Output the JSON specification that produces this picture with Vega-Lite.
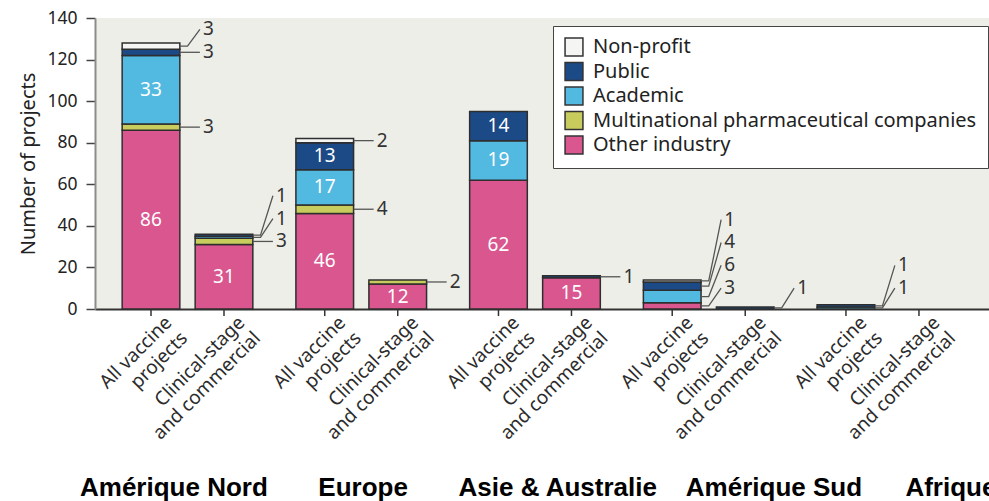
{
  "$schema": "https://vega.github.io/schema/vega-lite/v6.json",
  "width": 894,
  "height": 291,
  "autosize": {"type": "none"},
  "padding": {"left": 95, "top": 18, "right": 0, "bottom": 192},
  "background": "white",
  "config": {
    "view": {"fill": "#EEEEE9", "stroke": null},
    "font": "Noto Sans",
    "legend": {"cornerRadius": 0}
  },
  "title": {
    "text": "Amérique Nord\u00a0\u00a0\u00a0\u00a0\u00a0\u00a0\u00a0Europe\u00a0\u00a0\u00a0\u00a0\u00a0\u00a0\u00a0Asie & Australie\u00a0\u00a0\u00a0\u00a0Amérique Sud\u00a0\u00a0\u00a0\u00a0\u00a0\u00a0Afrique",
    "orient": "bottom",
    "anchor": "start",
    "frame": "group",
    "font": "Liberation Sans",
    "fontSize": 26,
    "fontWeight": "bold",
    "color": "#000000",
    "dx": -15,
    "offset": 32
  },
  "data": {
    "values": [
      {"region": "Amérique Nord", "stage": "All vaccine projects", "category": "Other industry", "value": 86},
      {"region": "Amérique Nord", "stage": "All vaccine projects", "category": "Multinational pharmaceutical companies", "value": 3},
      {"region": "Amérique Nord", "stage": "All vaccine projects", "category": "Academic", "value": 33},
      {"region": "Amérique Nord", "stage": "All vaccine projects", "category": "Public", "value": 3},
      {"region": "Amérique Nord", "stage": "All vaccine projects", "category": "Non-profit", "value": 3},
      {"region": "Amérique Nord", "stage": "Clinical-stage and commercial", "category": "Other industry", "value": 31},
      {"region": "Amérique Nord", "stage": "Clinical-stage and commercial", "category": "Multinational pharmaceutical companies", "value": 3},
      {"region": "Amérique Nord", "stage": "Clinical-stage and commercial", "category": "Academic", "value": 1},
      {"region": "Amérique Nord", "stage": "Clinical-stage and commercial", "category": "Public", "value": 1},
      {"region": "Europe", "stage": "All vaccine projects", "category": "Other industry", "value": 46},
      {"region": "Europe", "stage": "All vaccine projects", "category": "Multinational pharmaceutical companies", "value": 4},
      {"region": "Europe", "stage": "All vaccine projects", "category": "Academic", "value": 17},
      {"region": "Europe", "stage": "All vaccine projects", "category": "Public", "value": 13},
      {"region": "Europe", "stage": "All vaccine projects", "category": "Non-profit", "value": 2},
      {"region": "Europe", "stage": "Clinical-stage and commercial", "category": "Other industry", "value": 12},
      {"region": "Europe", "stage": "Clinical-stage and commercial", "category": "Multinational pharmaceutical companies", "value": 2},
      {"region": "Asie & Australie", "stage": "All vaccine projects", "category": "Other industry", "value": 62},
      {"region": "Asie & Australie", "stage": "All vaccine projects", "category": "Academic", "value": 19},
      {"region": "Asie & Australie", "stage": "All vaccine projects", "category": "Public", "value": 14},
      {"region": "Asie & Australie", "stage": "Clinical-stage and commercial", "category": "Other industry", "value": 15},
      {"region": "Asie & Australie", "stage": "Clinical-stage and commercial", "category": "Public", "value": 1},
      {"region": "Amérique Sud", "stage": "All vaccine projects", "category": "Other industry", "value": 3},
      {"region": "Amérique Sud", "stage": "All vaccine projects", "category": "Academic", "value": 6},
      {"region": "Amérique Sud", "stage": "All vaccine projects", "category": "Public", "value": 4},
      {"region": "Amérique Sud", "stage": "All vaccine projects", "category": "Non-profit", "value": 1},
      {"region": "Amérique Sud", "stage": "Clinical-stage and commercial", "category": "Public", "value": 1},
      {"region": "Afrique", "stage": "All vaccine projects", "category": "Academic", "value": 1},
      {"region": "Afrique", "stage": "All vaccine projects", "category": "Public", "value": 1},
      {"region": "Afrique", "stage": "Clinical-stage and commercial", "category": "Other industry", "value": 0}
    ]
  },
  "transform": [
    {"calculate": "indexof(['Other industry','Multinational pharmaceutical companies','Academic','Public','Non-profit'], datum.category)", "as": "ord"},
    {"calculate": "indexof(['Amérique Nord','Europe','Asie & Australie','Amérique Sud','Afrique'], datum.region) * 2.38 + (datum.stage == 'All vaccine projects' ? 0 : 1)", "as": "xpos"},
    {"stack": "value", "groupby": ["region", "stage"], "sort": [{"field": "ord", "order": "ascending"}], "as": ["y0", "y1"]},
    {"calculate": "(datum.y0 + datum.y1) / 2", "as": "mid"},
    {"calculate": "datum.xpos - 0.395", "as": "xl"},
    {"calculate": "datum.xpos + 0.395", "as": "xr"}
  ],
  "layer": [
    {
      "transform": [{"filter": "datum.value > 0"}],
      "mark": {"type": "bar", "stroke": "#2e2e2e", "strokeWidth": 1.5},
      "encoding": {
        "x": {
          "field": "xl", "type": "quantitative",
          "scale": {"domain": [-0.7671, 11.4795], "nice": false, "zero": false},
          "axis": {"labels": false, "ticks": false, "grid": false, "title": null, "domainColor": "#333333", "domainWidth": 2}
        },
        "x2": {"field": "xr"},
        "y": {
          "field": "y0", "type": "quantitative",
          "scale": {"domain": [0, 140], "nice": false, "zero": true},
          "axis": {
            "values": [0, 20, 40, 60, 80, 100, 120, 140],
            "grid": false,
            "domainColor": "#8c8c8c", "domainWidth": 2,
            "tickColor": "#444444", "tickWidth": 1.5, "tickSize": 9,
            "labelFontSize": 17.5, "labelColor": "#222222", "labelPadding": 9, "labelFont": "Noto Sans",
            "title": "Number of projects", "titleFontSize": 20, "titleFontWeight": "normal",
            "titleColor": "#222222", "titlePadding": 8, "titleFont": "Noto Sans"
          }
        },
        "y2": {"field": "y1"},
        "color": {
          "field": "category", "type": "nominal",
          "scale": {
            "domain": ["Non-profit", "Public", "Academic", "Multinational pharmaceutical companies", "Other industry"],
            "range": ["#F5F5F3", "#1C4A86", "#52B9E0", "#C8CC5C", "#D9568F"]
          },
          "legend": {
            "orient": "none", "legendX": 458, "legendY": 8, "title": null,
            "fillColor": "white", "strokeColor": "#444444", "padding": 11,
            "symbolType": "square", "symbolSize": 320, "symbolStrokeColor": "#333333", "symbolStrokeWidth": 1.5,
            "labelFontSize": 20, "labelFont": "Noto Sans", "labelColor": "#222222", "labelLimit": 0,
            "rowPadding": 0.5, "labelOffset": 9
          }
        }
      }
    },
    {
      "transform": [{"aggregate": [{"op": "count", "as": "n"}], "groupby": ["region", "stage", "xpos"]}],
      "mark": {"type": "rule", "color": "#333333", "strokeWidth": 1.5},
      "encoding": {
        "x": {"field": "xpos", "type": "quantitative"},
        "y": {"datum": 0},
        "y2": {"datum": -3.4}
      }
    },
    {
      "transform": [
        {"aggregate": [{"op": "count", "as": "n"}], "groupby": ["region", "stage", "xpos"]},
        {"calculate": "replace(replace(datum.stage, 'vaccine ', 'vaccine\\n'), 'stage ', 'stage\\n')", "as": "lab"}
      ],
      "mark": {"type": "text", "angle": 315, "align": "right", "baseline": "alphabetic", "dx": 5, "dy": 26, "fontSize": 19, "lineHeight": 22, "lineBreak": "\n", "color": "#2b2b2b", "font": "Noto Sans"},
      "encoding": {
        "x": {"field": "xpos", "type": "quantitative"},
        "y": {"datum": 0},
        "text": {"field": "lab"}
      }
    },
    {
      "transform": [{"filter": "datum.value >= 10"}],
      "mark": {"type": "text", "color": "white", "fontSize": 19, "align": "center", "baseline": "middle", "font": "Noto Sans"},
      "encoding": {
        "x": {"field": "xpos", "type": "quantitative"},
        "y": {"field": "mid", "type": "quantitative"},
        "text": {"field": "value"}
      }
    },
    {
      "transform": [
        {"filter": "datum.value > 0 && datum.value < 10"},
        {"window": [{"op": "row_number", "as": "r"}, {"op": "first_value", "field": "mid", "as": "fmid"}, {"op": "lag", "field": "mid", "as": "lagmid"}], "groupby": ["region", "stage"], "sort": [{"field": "ord", "order": "ascending"}]},
        {"calculate": "max(datum.mid, max(datum.fmid, 10) + (datum.r - 1) * 11, datum.r > 1 ? datum.lagmid + 11 : 0)", "as": "ly"},
        {"calculate": "datum.xpos + 0.395", "as": "p0"},
        {"calculate": "datum.xpos + 0.5", "as": "p1"},
        {"calculate": "datum.xpos + 0.67", "as": "p2"},
        {"fold": ["p0", "p1", "p2"], "as": ["pt", "px"]},
        {"calculate": "datum.pt == 'p2' ? datum.ly : datum.mid", "as": "py"}
      ],
      "mark": {"type": "line", "color": "#555555", "strokeWidth": 1.3},
      "encoding": {
        "x": {"field": "px", "type": "quantitative"},
        "y": {"field": "py", "type": "quantitative"},
        "detail": [{"field": "region"}, {"field": "stage"}, {"field": "category"}],
        "order": {"field": "pt"}
      }
    },
    {
      "transform": [
        {"filter": "datum.value > 0 && datum.value < 10"},
        {"window": [{"op": "row_number", "as": "r"}, {"op": "first_value", "field": "mid", "as": "fmid"}, {"op": "lag", "field": "mid", "as": "lagmid"}], "groupby": ["region", "stage"], "sort": [{"field": "ord", "order": "ascending"}]},
        {"calculate": "max(datum.mid, max(datum.fmid, 10) + (datum.r - 1) * 11, datum.r > 1 ? datum.lagmid + 11 : 0)", "as": "ly"},
        {"calculate": "datum.xpos + 0.7", "as": "lx"}
      ],
      "mark": {"type": "text", "color": "#333333", "fontSize": 19, "align": "left", "baseline": "middle", "dx": 1, "font": "Noto Sans"},
      "encoding": {
        "x": {"field": "lx", "type": "quantitative"},
        "y": {"field": "ly", "type": "quantitative"},
        "text": {"field": "value"}
      }
    }
  ]
}
